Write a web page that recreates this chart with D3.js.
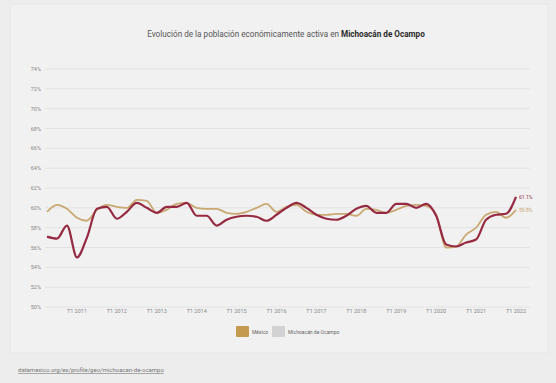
<!DOCTYPE html>
<html>
<head>
<meta charset="utf-8">
<script src="https://cdn.jsdelivr.net/npm/d3@7"></script>
<style>
body { margin: 0; background: #ededed; }
text { font-family: "Liberation Sans Narrow", "Arial Narrow", Roboto, sans-serif; }
</style>
</head>
<body>
<div class="forshow"></div>
<script>
// quarters shown on the chart (T2 2010 .. T1 2022)
var quarters = [
	"T2 2010", "T3 2010", "T4 2010",
	"T1 2011", "T2 2011", "T3 2011", "T4 2011",
	"T1 2012", "T2 2012", "T3 2012", "T4 2012",
	"T1 2013", "T2 2013", "T3 2013", "T4 2013",
	"T1 2014", "T2 2014", "T3 2014", "T4 2014",
	"T1 2015", "T2 2015", "T3 2015", "T4 2015",
	"T1 2016", "T2 2016", "T3 2016", "T4 2016",
	"T1 2017", "T2 2017", "T3 2017", "T4 2017",
	"T1 2018", "T2 2018", "T3 2018", "T4 2018",
	"T1 2019", "T2 2019", "T3 2019", "T4 2019",
	"T1 2020", "T2 2020", "T3 2020", "T4 2020",
	"T1 2021", "T2 2021", "T3 2021", "T4 2021",
	"T1 2022"
];

var mexico = [
	59.6, 60.3, 59.9,
	59.0, 58.7, 59.8, 60.3,
	60.1, 60.0, 60.8, 60.7,
	59.5, 59.8, 60.4, 60.5,
	60.0, 59.9, 59.9, 59.5,
	59.4, 59.6, 60.0, 60.4,
	59.6, 60.1, 60.3, 59.6,
	59.3, 59.3, 59.4, 59.4,
	59.2, 59.9, 59.8, 59.5,
	59.8, 60.2, 60.3, 60.2,
	59.3, 56.0, 56.1, 57.3,
	58.0, 59.3, 59.6, 59.0,
	59.8
];

var michoacan = [
	57.1, 56.9, 58.2,
	55.0, 57.0, 59.9, 60.1,
	58.9, 59.6, 60.5, 60.0,
	59.5, 60.1, 60.1, 60.5,
	59.2, 59.2, 58.2, 58.8,
	59.1, 59.2, 59.1, 58.7,
	59.3, 60.0, 60.5, 60.0,
	59.3, 58.9, 58.8, 59.2,
	59.9, 60.2, 59.5, 59.5,
	60.4, 60.4, 60.0, 60.4,
	59.2, 56.3, 56.1, 56.5,
	56.8, 58.8, 59.3, 59.4,
	61.1
];

var yTicks = [50, 52, 54, 56, 58, 60, 62, 64, 66, 68, 70, 72, 74];
var xTicks = ["T1 2011", "T1 2012", "T1 2013", "T1 2014", "T1 2015", "T1 2016",
	"T1 2017", "T1 2018", "T1 2019", "T1 2020", "T1 2021", "T1 2022"];

var seriesNames = ["México", "Michoacán de Ocampo"];
var lineColors = ["#c9a872", "#962a42"];
var swatchColors = ["#c49a4e", "#d2d2d2"];

var width = 556, height = 383;

var svg = d3.select(".forshow").append("svg")
	.attr("width", width)
	.attr("height", height);

// panel
svg.append("rect")
	.attr("x", 10).attr("y", 4)
	.attr("width", 538).attr("height", 349)
	.attr("fill", "#f1f1f1")
	.attr("stroke", "#e6e6e6");

var x = d3.scalePoint()
	.domain(quarters)
	.range([47, 516]);

var y = d3.scaleLinear()
	.domain([50, 74])
	.range([307, 69]);

// title, squeezed horizontally to look like the narrow original face
var title = svg.append("g")
	.attr("transform", "translate(286,37) scale(0.86,1)")
	.append("text")
	.attr("text-anchor", "middle")
	.attr("font-size", 9.5)
	.attr("fill", "#555");
title.append("tspan").text("Evolución de la población económicamente activa en ");
title.append("tspan").attr("font-weight", "bold").attr("fill", "#2a2a2a").text("Michoacán de Ocampo");

// grid + y labels
svg.append("g").selectAll("line")
	.data(yTicks)
	.enter()
	.append("line")
	.attr("x1", 45)
	.attr("x2", 530)
	.attr("y1", function(d) { return y(d); })
	.attr("y2", function(d) { return y(d); })
	.attr("stroke", "#e2e2e2")
	.attr("stroke-width", 1);

svg.append("g").selectAll("text")
	.data(yTicks)
	.enter()
	.append("text")
	.attr("x", 41)
	.attr("y", function(d) { return y(d) + 2; })
	.attr("text-anchor", "end")
	.attr("font-size", 5.5)
	.attr("fill", "#888")
	.text(function(d) { return d + "%"; });

// x labels
svg.append("g").selectAll("text")
	.data(xTicks)
	.enter()
	.append("text")
	.attr("x", function(d) { return x(d); })
	.attr("y", 313)
	.attr("text-anchor", "middle")
	.attr("font-size", 5.5)
	.attr("fill", "#888")
	.text(function(d) { return d; });

var line = d3.line()
	.x(function(d, i) { return x(quarters[i]); })
	.y(function(d) { return y(d); })
	.curve(d3.curveMonotoneX);

var allSeries = [mexico, michoacan];

svg.append("g").selectAll("path")
	.data(allSeries)
	.enter()
	.append("path")
	.attr("d", line)
	.attr("fill", "none")
	.attr("stroke", function(d, i) { return lineColors[i]; })
	.attr("stroke-width", function(d, i) { return i === 1 ? 2.2 : 1.8; })
	.attr("stroke-linejoin", "round");

// end labels
svg.append("g").selectAll("text")
	.data(allSeries)
	.enter()
	.append("text")
	.attr("x", x(quarters[quarters.length - 1]) + 3)
	.attr("y", function(d) { return y(d[d.length - 1]) + 2; })
	.attr("font-size", 5)
	.attr("fill", function(d, i) { return lineColors[i]; })
	.text(function(d) { return d[d.length - 1].toFixed(1) + "%"; });

// legend
var legend = svg.append("g").attr("transform", "translate(236,326)");
var legendX = [0, 36];
var items = legend.selectAll("g")
	.data(seriesNames)
	.enter()
	.append("g")
	.attr("transform", function(d, i) { return "translate(" + legendX[i] + ",0)"; });
items.append("rect")
	.attr("width", 13)
	.attr("height", 11)
	.attr("rx", 1)
	.attr("fill", function(d, i) { return swatchColors[i]; });
items.append("text")
	.attr("x", 16)
	.attr("y", 7.5)
	.attr("font-size", 5)
	.attr("fill", "#666")
	.text(function(d) { return d; });

// source
svg.append("text")
	.attr("x", 18)
	.attr("y", 372)
	.attr("font-size", 6)
	.attr("fill", "#777")
	.attr("text-decoration", "underline")
	.text("datamexico.org/es/profile/geo/michoacan-de-ocampo");
</script>
</body>
</html>
